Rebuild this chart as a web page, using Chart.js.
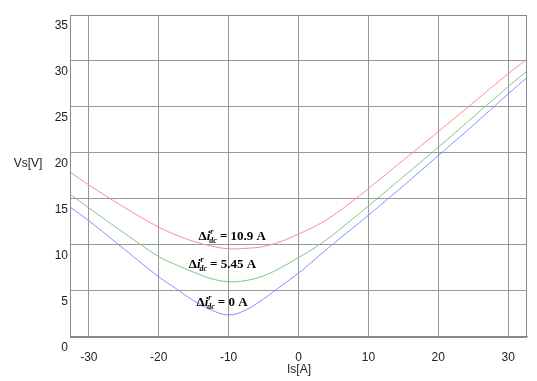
<!DOCTYPE html>
<html><head><meta charset="utf-8">
<script src="https://cdn.jsdelivr.net/npm/chart.js@4"></script>
<style>html,body{margin:0;padding:0;background:#fff}canvas{display:block}</style>
</head><body>
<canvas id="c" width="537" height="381"></canvas>
<script>
const isA   = [-32.7, -30, -25, -20, -17.5, -15, -12.5, -10, -7.5, -5, -2.5, 0, 2.5, 5, 7.5, 10, 15, 20, 25, 30, 32.7];
const vsRed   = [17.9, 16.5, 14.1, 11.9, 11.05, 10.35, 9.85, 9.55, 9.6, 9.8, 10.35, 11.15, 12.05, 13.2, 14.6, 16.1, 19.2, 22.3, 25.45, 28.6, 30.2];
const vsGreen = [15.5, 14.0, 11.3, 8.7, 7.8, 7.0, 6.3, 5.96, 6.1, 6.6, 7.5, 8.6, 9.75, 11.1, 12.65, 14.2, 17.4, 20.6, 23.9, 27.2, 28.9];
const vsBlue  = [14.1, 12.6, 9.55, 6.5, 5.2, 3.9, 2.9, 2.35, 2.9, 4.1, 5.5, 6.9, 8.5, 10.1, 11.65, 13.2, 16.4, 19.7, 23.0, 26.4, 28.2];
const xTicks = [-30, -20, -10, 0, 10, 20, 30];
const yTicks = [0, 5, 10, 15, 20, 25, 30, 35];
const annValues = ['10.9 A', '5.45 A', '0 A'];
const annPos = [[-14.3, 11.0], [-15.7, 7.9], [-14.6, 3.8]];

const pts = ys => isA.map((x, i) => ({x, y: ys[i]}));
const mk = (label, ys, color) => ({
  label, data: pts(ys), borderColor: color, backgroundColor: color,
  borderWidth: 1, pointRadius: 0, tension: 0.4, fill: false
});

const deco = {
  id: 'deco',
  afterDraw(chart) {
    const {ctx, chartArea: a, scales: {x, y}} = chart;
    ctx.save();
    ctx.strokeStyle = '#888';
    ctx.lineWidth = 1;
    ctx.strokeRect(Math.round(a.left) + 0.5, Math.round(a.top) + 0.5,
                   Math.round(a.right - a.left) - 1, Math.round(a.bottom - a.top));
    ctx.fillStyle = '#222';
    ctx.font = '12px "Liberation Sans", Arial, sans-serif';
    ctx.textAlign = 'center';
    ctx.textBaseline = 'middle';
    ctx.fillText('Vs[V]', 28, 164);
    ctx.fillText('Is[A]', (a.left + a.right) / 2 + 0.5, 370);
    // annotations
    ctx.fillStyle = '#000';
    ctx.textAlign = 'left';
    ctx.textBaseline = 'alphabetic';
    const serif = '"Liberation Serif", "Times New Roman", serif';
    annValues.forEach((v, i) => {
      let px = x.getPixelForValue(annPos[i][0]);
      const py = y.getPixelForValue(annPos[i][1]) + 4.5;
      ctx.font = 'bold 13px ' + serif;
      ctx.fillText('\u0394', px, py);
      px += ctx.measureText('\u0394').width;
      ctx.font = 'bold italic 13px ' + serif;
      ctx.fillText('i', px, py);
      px += ctx.measureText('i').width;
      ctx.font = 'bold italic 8px ' + serif;
      ctx.fillText('r', px, py - 6);
      ctx.fillText('dc', px - 1, py + 3);
      px += ctx.measureText('dc').width + 2;
      ctx.font = 'bold 13px ' + serif;
      ctx.fillText('= ' + v, px, py);
    });
    ctx.restore();
  }
};

new Chart(document.getElementById('c'), {
  type: 'line',
  data: { datasets: [
    mk('10.9 A', vsRed, 'rgb(255,140,140)'),
    mk('5.45 A', vsGreen, 'rgb(130,195,130)'),
    mk('0 A', vsBlue, 'rgb(140,140,255)')
  ]},
  options: {
    responsive: false, animation: false, devicePixelRatio: 1,
    layout: { padding: { left: 0, right: 10, top: 15, bottom: 0 } },
    plugins: { legend: { display: false }, tooltip: { enabled: false } },
    scales: {
      x: {
        type: 'linear', min: -32.7, max: 32.7,
        afterBuildTicks: s => { s.ticks = xTicks.map(v => ({value: v})); },
        afterFit: s => { s.height = 44.5; },
        grid: { color: '#999', drawTicks: false },
        border: { color: '#888' },
        ticks: { padding: 14, color: '#222', font: { family: '"Liberation Sans", Arial, sans-serif', size: 12 } }
      },
      y: {
        type: 'linear', min: 0, max: 35,
        afterBuildTicks: s => { s.ticks = yTicks.map(v => ({value: v})); },
        afterFit: s => { s.width = 70; },
        grid: { color: '#999', drawTicks: false },
        border: { color: '#888' },
        ticks: { padding: 2, labelOffset: 11, color: '#222', font: { family: '"Liberation Sans", Arial, sans-serif', size: 12 } }
      }
    }
  },
  plugins: [deco]
});
</script>
</body></html>
